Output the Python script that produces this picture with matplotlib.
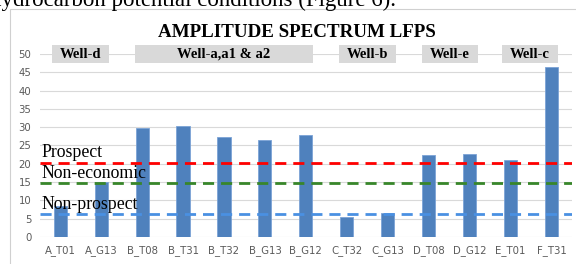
import matplotlib.pyplot as plt
from matplotlib.patches import Rectangle

samples = ['A_T01', 'A_G13', 'B_T08', 'B_T31', 'B_T32', 'B_G13', 'B_G12',
           'C_T32', 'C_G13', 'D_T08', 'D_G12', 'E_T01', 'F_T31']
amplitude = [8.5, 15.0, 29.9, 30.3, 27.4, 26.4, 28.0, 5.5, 6.4, 22.4, 22.8, 21.0, 46.4]

cutoff_names = ['Prospect', 'Non-economic', 'Non-prospect']
cutoff_values = [20.2, 14.7, 6.2]
cutoff_colors = ['#ff0000', '#38862a', '#4a90e2']
cutoff_label_y = [21.9, 16.2, 7.6]

wells = ['Well-d', 'Well-a,a1 & a2', 'Well-b', 'Well-e', 'Well-c']
well_spans = [(-0.2, 1.2), (1.83, 6.17), (6.8, 8.2), (8.83, 10.2), (10.78, 12.15)]

serif = ['Liberation Serif', 'DejaVu Serif']

fig = plt.figure(figsize=(5.76, 2.64), dpi=100)
ax = fig.add_axes([0.069, 0.103, 0.924, 0.692])

x = range(len(samples))
ax.bar(x, amplitude, width=0.32, color='#4f81bd', edgecolor='#7ba3d6', linewidth=0.6, zorder=3)

for name, val, col, ly in zip(cutoff_names, cutoff_values, cutoff_colors, cutoff_label_y):
    ax.axhline(val, color=col, linestyle=(0, (4, 2.5)), linewidth=2, zorder=4)
    ax.text(-0.45, ly, name, family=serif, fontsize=12.8, va='baseline', ha='left', zorder=5)

for name, (x0, x1) in zip(wells, well_spans):
    ax.add_patch(Rectangle((x0, 47.5), x1 - x0, 5, facecolor='#d9d9d9', edgecolor='none',
                           clip_on=False, zorder=5))
    ax.text((x0 + x1) / 2, 50, name, family=serif, fontsize=10.5, fontweight='bold',
            ha='center', va='center', zorder=6)

ax.set_xlim(-0.5, len(samples) - 0.5)
ax.set_ylim(0, 50)
ax.set_yticks(range(0, 51, 5))
ax.set_xticks(list(x))
ax.set_xticklabels(samples)
ax.tick_params(axis='both', length=0, labelsize=7.3, colors='#595959', pad=6)
ax.grid(axis='y', color='#d9d9d9', linewidth=0.8, zorder=0)
for s in ax.spines.values():
    s.set_visible(False)

ax.text(0.515, 1 - 37 / 264, 'AMPLITUDE SPECTRUM LFPS', transform=fig.transFigure,
        family=serif, fontsize=13.7, fontweight='bold', ha='center', va='baseline')

# chart frame and the line of document text cut off above it
fig.patches.append(Rectangle((10 / 576, -0.1), 1, (264 - 9) / 264 + 0.1, transform=fig.transFigure,
                             facecolor='none', edgecolor='#d0d0d0', linewidth=0.8))
fig.text(-0.017, 1 - 6 / 264, 'hydrocarbon potential conditions (Figure 6).', family=serif,
         fontsize=16.5, va='baseline', ha='left')

fig.savefig('out.png', dpi=100)
